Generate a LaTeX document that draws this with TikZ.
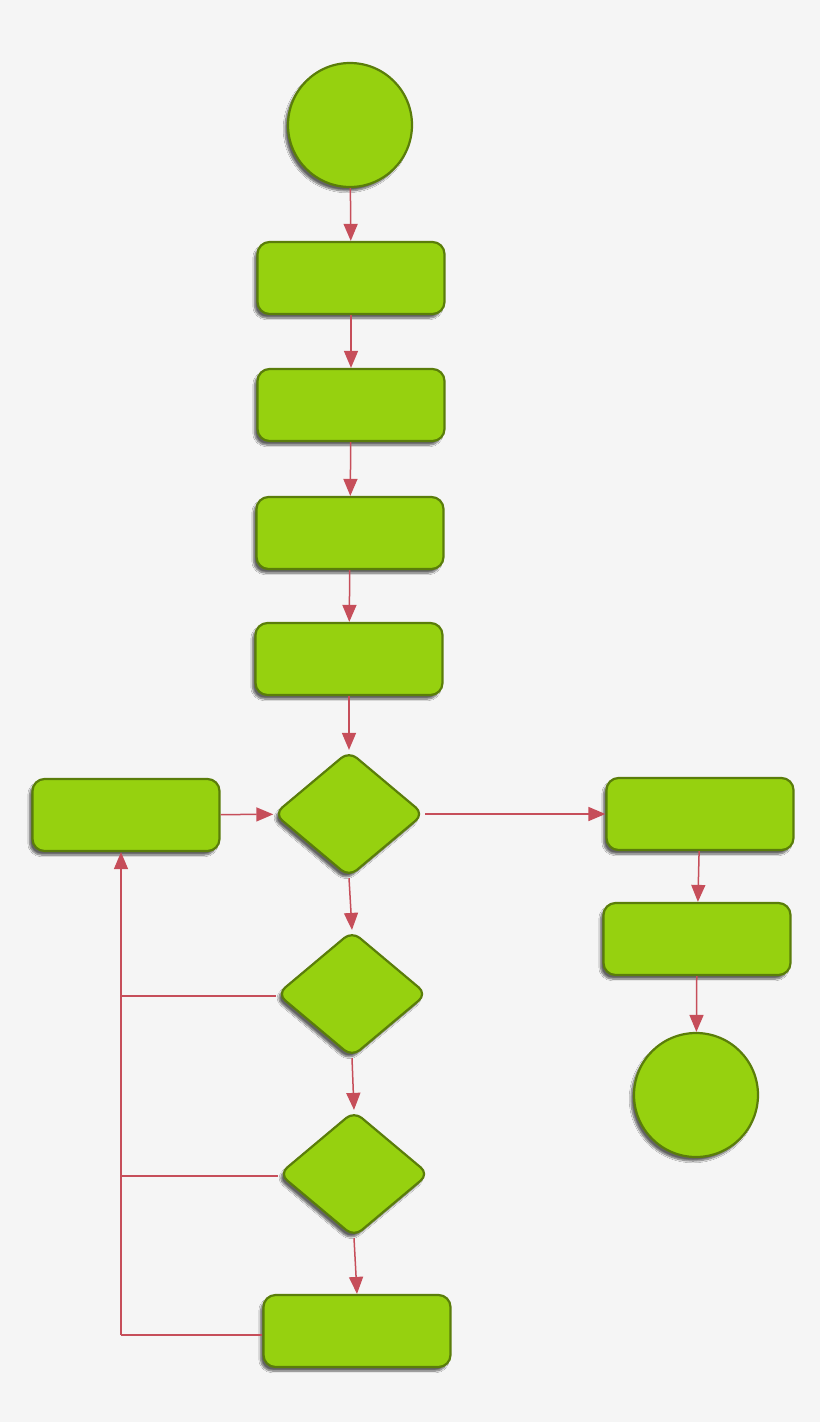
\documentclass[tikz,border=0pt]{standalone}
\usetikzlibrary{shapes.geometric,arrows.meta,shadows.blur}
\definecolor{bg}{HTML}{F5F5F5}
\definecolor{gfill}{HTML}{96D10F}
\definecolor{gline}{HTML}{5A7D0A}
\definecolor{arr}{HTML}{C64E5A}
\begin{document}
\begin{tikzpicture}[x=1pt,y=-1pt,
  base/.style={fill=gfill,draw=gline,line width=2.2pt,blur shadow={shadow xshift=-3pt,shadow yshift=-4pt,shadow blur steps=8,shadow opacity=60}},
  boxn/.style={base,rounded corners=12pt,minimum width=187pt,minimum height=72pt,inner sep=0pt},
  circn/.style={base,circle,minimum size=124pt,inner sep=0pt},
  dia/.style={base,diamond,rounded corners=10pt,minimum width=150pt,minimum height=126pt,inner sep=0pt},
  ar/.style={draw=arr,line width=1.5pt,-{Triangle[width=14pt,length=17pt]}},
  ln/.style={draw=arr,line width=1.5pt}]
\fill[bg] (0,0) rectangle (820,1422);
\useasboundingbox (0,0) rectangle (820,1422);
\node[circn] (start) at (350,125) {};
\node[boxn] (b1) at (351,278) {};
\node[boxn] (b2) at (351,405) {};
\node[boxn] (b3) at (350,533) {};
\node[boxn] (b4) at (349,659) {};
\node[dia] (d1) at (349,814) {};
\node[boxn] (lb) at (126,815) {};
\node[boxn] (r1) at (700,814) {};
\node[boxn] (r2) at (697,939) {};
\node[circn] (end) at (696,1095) {};
\node[dia] (d2) at (352,994) {};
\node[dia] (d3) at (354,1174) {};
\node[boxn] (bb) at (357,1331) {};
\coordinate (c1) at (121,996);
\coordinate (c2) at (121,1176);
\coordinate (c3) at (121,1335);
\path[ar] (start) -- (b1);
\path[ar] (b1) -- (b2);
\path[ar] (b2) -- (b3);
\path[ar] (b3) -- (b4);
\path[ar] (b4) -- (d1);
\path[ar] (lb) -- (d1);
\path[ar] (d1) -- (r1);
\path[ar] (r1) -- (r2);
\path[ar] (r2) -- (end);
\path[ar] (d1.south) -- (d2.north);
\path[ar] (d2.south) -- (d3.north);
\path[ar] (d3.south) -- (bb.north);
\path[ln] (bb.west |- c3) -- (c3);
\path[ln] (d2.west |- c1) -- (c1);
\path[ln] (d3.west |- c2) -- (c2);
\path[ar] (c3) -- (lb.south -| c3);
\end{tikzpicture}
\end{document}
